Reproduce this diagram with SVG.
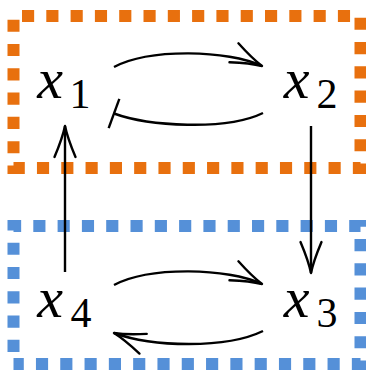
<svg xmlns="http://www.w3.org/2000/svg" width="366" height="371" viewBox="0 0 366 371">
  <style>
    .group-box { fill: none; stroke-width: 12; stroke-dasharray: 12.15 12.15; }
    .orange { stroke: #E8700E; }
    .blue { stroke: #5590D8; }
    .edge { fill: none; stroke: #000; stroke-width: 2.4; stroke-linecap: butt; }
    .var { font-style: italic; font-size: 58px; fill: #000; text-anchor: middle; }
    .sub { font-size: 42px; fill: #000; text-anchor: middle; }
  </style>
  <defs>
    <marker id="to" markerUnits="userSpaceOnUse" orient="auto" markerWidth="44" markerHeight="30" viewBox="-36 -15 44 30" refX="0" refY="0" overflow="visible">
      <path d="M-31,-10.5 Q-12,-2.5 0,0 Q-12,2.5 -31,10.5" fill="none" stroke="#000" stroke-width="2.4" stroke-linecap="round" stroke-linejoin="round"/>
    </marker>
    <marker id="tee" markerUnits="userSpaceOnUse" orient="auto" markerWidth="10" markerHeight="36" viewBox="-5 -18 10 36" refX="0" refY="0" overflow="visible">
      <path d="M0,-15.5 V15.5" fill="none" stroke="#000" stroke-width="2.4"/>
    </marker>
  </defs>

  <!-- dotted group outlines -->
  <g id="group-top">
    <path class="group-box orange" d="M13.5,168 V16 H360.5 V168 Z" stroke-dashoffset="9.6"/>
  </g>
  <g id="group-bottom">
    <path class="group-box blue" d="M13.5,364 V226 H360.5 V364 Z" stroke-dashoffset="12.3"/>
  </g>

  <!-- variables -->
  <g id="x1" font-family="Liberation Serif, serif">
    <text class="var" x="50" y="98">x</text>
    <text class="sub" x="80" y="108">1</text>
  </g>
  <g id="x2" font-family="Liberation Serif, serif">
    <text class="var" x="296.5" y="98">x</text>
    <text class="sub" x="327" y="108">2</text>
  </g>
  <g id="x3" font-family="Liberation Serif, serif">
    <text class="var" x="296.5" y="317">x</text>
    <text class="sub" x="327" y="327">3</text>
  </g>
  <g id="x4" font-family="Liberation Serif, serif">
    <text class="var" x="50" y="317">x</text>
    <text class="sub" x="81" y="327">4</text>
  </g>

  <!-- connectors -->
  <g id="edges">
    <path class="edge" d="M114,67 C150,48 228,50 262,66" marker-end="url(#to)"/>
    <path class="edge" d="M263,113 C226,131 148,126 114,113.5" marker-end="url(#tee)"/>
    <path class="edge" d="M311,126 V273" marker-end="url(#to)"/>
    <path class="edge" d="M65,272 V126" marker-end="url(#to)"/>
    <path class="edge" d="M114,285 C150,266 228,268 262,284" marker-end="url(#to)"/>
    <path class="edge" d="M263,331 C226,349 152,347 114,333" marker-end="url(#to)"/>
  </g>
</svg>
